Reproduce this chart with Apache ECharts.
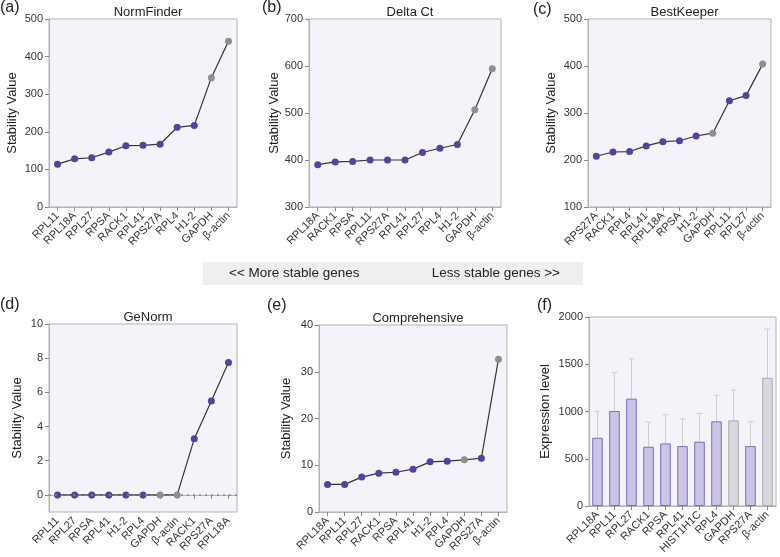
<!DOCTYPE html>
<html>
<head>
<meta charset="utf-8">
<script src="https://cdn.jsdelivr.net/npm/echarts@6/dist/echarts.min.js"></script>
<style>
html,body{margin:0;padding:0;background:#fff;}
#c{width:780px;height:557px;}
</style>
</head>
<body>
<div id="c"></div>
<script>
// ---- Data ----
const greyGenes = ['GAPDH', 'β-actin'];

const normCats = ['RPL11','RPL18A','RPL27','RPSA','RACK1','RPL41','RPS27A','RPL4','H1-2','GAPDH','β-actin'];
const normVals = [114, 128, 131, 146, 163, 164, 167, 212, 217, 344, 441];

const deltaCats = ['RPL18A','RACK1','RPSA','RPL11','RPS27A','RPL41','RPL27','RPL4','H1-2','GAPDH','β-actin'];
const deltaVals = [390, 396, 397, 400, 400, 400, 416, 425, 433, 507, 594];

const bestCats = ['RPS27A','RACK1','RPL4','RPL41','RPL18A','RPSA','H1-2','GAPDH','RPL11','RPL27','β-actin'];
const bestVals = [208, 217, 218, 230, 239, 241, 251, 257, 326, 337, 404];

const genCats = ['RPL11','RPL27','RPSA','RPL41','H1-2','RPL4','GAPDH','β-actin','RACK1','RPS27A','RPL18A'];
const genVals = [0, 0, 0, 0, 0, 0, 0, 0, 3.28, 5.5, 7.75];

const compCats = ['RPL18A','RPL11','RPL27','RACK1','RPSA','RPL41','H1-2','RPL4','GAPDH','RPS27A','β-actin'];
const compVals = [5.9, 5.9, 7.46, 8.31, 8.5, 9.17, 10.73, 10.87, 11.15, 11.5, 32.7];

const exprCats = ['RPL18A','RPL11','RPL27','RACK1','RPSA','RPL41','HIST1H1C','RPL4','GAPDH','RPS27A','β-actin'];
const exprVals = [722, 1005, 1136, 627, 662, 634, 680, 896, 906, 634, 1356];
const exprSd   = [280, 407, 422, 261, 304, 286, 300, 276, 322, 258, 517];

// ---- Styles ----
const FONT = 'Liberation Sans, Arial, Helvetica, sans-serif';
const PURPLE = '#5a3f9e';
const GREY = '#8f8f8f';
const PLOTBG = '#f4f3fa';
const BORDER = '#b3b3b3';

const grids = [
  {left: 49,  top: 19,  width: 188, height: 188},
  {left: 309, top: 19,  width: 192, height: 188},
  {left: 588, top: 19,  width: 183, height: 188},
  {left: 49,  top: 324, width: 188, height: 188},
  {left: 319, top: 325, width: 188, height: 187},
  {left: 589, top: 317, width: 187, height: 189}
].map(g => Object.assign({show: true, backgroundColor: PLOTBG, borderColor: BORDER, borderWidth: 1}, g));

function xAxis(idx, cats) {
  return {
    type: 'category', gridIndex: idx, data: cats, boundaryGap: true,
    axisLine: {show: true, lineStyle: {color: BORDER}},
    axisTick: {show: true, alignWithLabel: true, length: 4, lineStyle: {color: '#888'}},
    axisLabel: {rotate: 45, interval: 0, fontSize: 11, color: '#333', fontFamily: FONT, margin: 7},
    splitLine: {show: false}
  };
}
function yAxis(idx, min, max, interval, name, gap, extra) {
  const a = {
    type: 'value', gridIndex: idx, min: min, max: max, interval: interval,
    name: name, nameLocation: 'middle', nameGap: gap, nameRotate: 90,
    nameTextStyle: {fontSize: 13, color: '#222', fontFamily: FONT},
    axisLine: {show: true, lineStyle: {color: BORDER}},
    axisTick: {show: true, length: 4, lineStyle: {color: '#888'}},
    axisLabel: {fontSize: 11, color: '#333', fontFamily: FONT, margin: 6,
                formatter: function (v) { return String(v); }},
    splitLine: {show: false}
  };
  if (extra) {
    a.axisLabel.customValues = extra;
    a.axisTick.customValues = extra;
  }
  return a;
}
function colorFor(name) { return greyGenes.indexOf(name) >= 0 ? GREY : PURPLE; }

function lineSeries(idx, cats, vals) {
  return {
    type: 'line', xAxisIndex: idx, yAxisIndex: idx,
    data: vals.map((v, i) => ({value: v, itemStyle: {color: colorFor(cats[i])}})),
    symbol: 'circle', symbolSize: 7,
    lineStyle: {color: '#333', width: 1.2},
    z: 3, animation: false
  };
}

const titlesText = ['NormFinder', 'Delta Ct', 'BestKeeper', 'GeNorm', 'Comprehensive'];
const titles = titlesText.map((t, i) => ({
  text: t, left: grids[i].left + grids[i].width / 2, top: grids[i].top - 18,
  textAlign: 'center',
  textStyle: {fontSize: 13, fontWeight: 'normal', color: '#222', fontFamily: FONT}
}));

const letters = [
  ['(a)', 0, 8], ['(b)', 262, 8], ['(c)', 533, 10],
  ['(d)', 0, 305], ['(e)', 267, 306], ['(f)', 537, 306]
];

const genSeries = lineSeries(3, genCats, genVals);
genSeries.markLine = {
  silent: true, symbol: 'none', label: {show: false},
  lineStyle: {type: [2, 4], color: '#8a8a8a', width: 1.6, opacity: 1},
  emphasis: {disabled: true},
  data: [{yAxis: 0}]
};

const option = {
  animation: false,
  backgroundColor: '#fff',
  title: titles,
  grid: grids,
  xAxis: [
    xAxis(0, normCats), xAxis(1, deltaCats), xAxis(2, bestCats),
    xAxis(3, genCats), xAxis(4, compCats), xAxis(5, exprCats)
  ],
  yAxis: [
    yAxis(0, 0, 500, 100, 'Stability Value', 30),
    yAxis(1, 300, 700, 100, 'Stability Value', 18),
    yAxis(2, 100, 500, 100, 'Stability Value', 30),
    yAxis(3, -1, 10, 1, 'Stability Value', 25, [0, 2, 4, 6, 8, 10]),
    yAxis(4, 0, 40, 10, 'Stability Value', 26),
    yAxis(5, 0, 2000, 500, 'Expression level', 37)
  ],
  series: [
    lineSeries(0, normCats, normVals),
    lineSeries(1, deltaCats, deltaVals),
    lineSeries(2, bestCats, bestVals),
    genSeries,
    lineSeries(4, compCats, compVals),
    {
      type: 'bar', xAxisIndex: 5, yAxisIndex: 5, barWidth: '62%',
      data: exprVals.map((v, i) => {
        const g = greyGenes.indexOf(exprCats[i]) >= 0;
        return {value: v, itemStyle: {
          color: g ? '#d9d8dc' : '#cbc4e4',
          borderColor: g ? '#a9a9ad' : '#7d6bbf', borderWidth: 1
        }};
      }),
      z: 3
    },
    {
      type: 'custom', xAxisIndex: 5, yAxisIndex: 5, z: 2,
      data: exprVals.map((v, i) => [i, v, v + exprSd[i]]),
      renderItem: function (params, api) {
        const x = api.value(0);
        const p0 = api.coord([x, api.value(1)]);
        const p1 = api.coord([x, api.value(2)]);
        const st = {stroke: '#cfcfcf', lineWidth: 1};
        return {
          type: 'group',
          children: [
            {type: 'line', shape: {x1: p0[0], y1: p0[1], x2: p1[0], y2: p1[1]}, style: st},
            {type: 'line', shape: {x1: p1[0] - 3, y1: p1[1], x2: p1[0] + 3, y2: p1[1]}, style: st}
          ]
        };
      }
    }
  ],
  graphic: [
    {type: 'rect', shape: {x: 203, y: 262, width: 380, height: 23}, style: {fill: '#efefef'}, z: -1},
    {type: 'text', x: 229, y: 273.5, style: {text: '<< More stable genes', fontSize: 13.5, fontFamily: FONT, fill: '#222', verticalAlign: 'middle'}},
    {type: 'text', x: 560, y: 273.5, style: {text: 'Less stable genes >>', fontSize: 13.5, fontFamily: FONT, fill: '#222', align: 'right', verticalAlign: 'middle'}}
  ].concat(letters.map(l => ({
    type: 'text', x: l[1], y: l[2], style: {text: l[0], fontSize: 16, fontFamily: FONT, fill: '#222', verticalAlign: 'middle'}
  })))
};

const chart = echarts.init(document.getElementById('c'), null, {renderer: 'canvas'});
chart.setOption(option);
</script>
</body>
</html>
